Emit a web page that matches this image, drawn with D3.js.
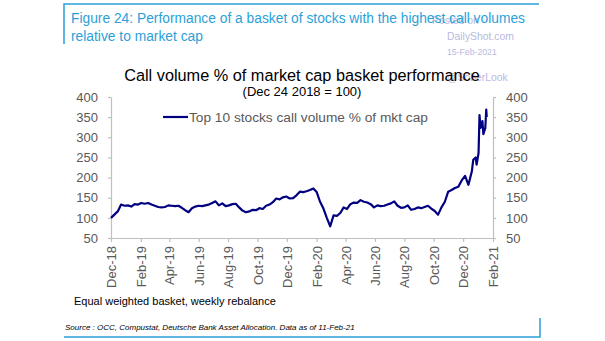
<!DOCTYPE html>
<html>
<head>
<meta charset="utf-8">
<script src="https://cdn.jsdelivr.net/npm/d3@7"></script>
<style>
  body { margin: 0; background: #fff; }
  svg { display: block; font-family: "Liberation Sans", Arial, sans-serif; }
</style>
</head>
<body>
<div id="chart"></div>
<script>
  // weekly basket level, Dec 24 2018 = 100
  var startDate = "2018-12-24";
  var weeklyValues = [100, 108, 116, 133, 130, 131, 128, 134, 133, 137,
    135, 137, 133, 130, 127, 126, 127, 131, 130, 129,
    130, 125, 119, 114, 124, 128, 130, 129, 131, 133,
    137, 141, 131, 136, 129, 131, 134, 135, 126, 118,
    114, 116, 120, 119, 124, 122, 130, 133, 139, 148,
    146, 151, 153, 148, 149, 156, 165, 164, 166, 169,
    173, 164, 140, 123, 100, 79, 106, 105, 112, 126,
    122, 134, 138, 137, 144, 140, 138, 134, 126, 131,
    129, 130, 133, 136, 141, 130, 125, 126, 131, 120,
    122, 126, 124, 127, 130, 123, 117, 108, 126, 140,
    165, 169, 174, 177, 193, 204, 182, 215];
  // last weeks (Jan/Feb 2021) at daily detail
  var tailDates = ["2021-01-14", "2021-01-19", "2021-01-21", "2021-01-25", "2021-01-27",
    "2021-01-29", "2021-02-02", "2021-02-04", "2021-02-08", "2021-02-10", "2021-02-11"];
  var tailValues = [244, 250, 232, 261, 355, 323, 340, 308, 323, 369, 350];

  var yTicks = [50, 100, 150, 200, 250, 300, 350, 400];
  var xTickDates = ["2018-12-24", "2019-02-24", "2019-04-24", "2019-06-24", "2019-08-24",
    "2019-10-24", "2019-12-24", "2020-02-24", "2020-04-24", "2020-06-24", "2020-08-24",
    "2020-10-24", "2020-12-24", "2021-02-24"];
  var xTickLabels = ["Dec-18", "Feb-19", "Apr-19", "Jun-19", "Aug-19", "Oct-19", "Dec-19",
    "Feb-20", "Apr-20", "Jun-20", "Aug-20", "Oct-20", "Dec-20", "Feb-21"];
  var seriesName = "Top 10 stocks call volume % of mkt cap";

  var parse = d3.timeParse("%Y-%m-%d");
  var start = parse(startDate);

  var data = weeklyValues.map(function(v, i) {
    return { date: d3.timeDay.offset(start, 7 * i), value: v };
  }).concat(tailDates.map(function(d, i) {
    return { date: parse(d), value: tailValues[i] };
  }));

  var width = 605, height = 341;
  var blue = "#2c9fd9", mark = "#b9b9de", axisGrey = "#bfbfbf", labelGrey = "#595959";

  var svg = d3.select("#chart").append("svg")
    .attr("width", width)
    .attr("height", height);

  svg.append("rect").attr("width", width).attr("height", height).attr("fill", "#fff");

  // frame lines
  svg.append("path")
    .attr("d", "M64,44V4H539")
    .attr("fill", "none").attr("stroke", blue).attr("stroke-width", 1.5);
  svg.append("path")
    .attr("d", "M64,337H540V318")
    .attr("fill", "none").attr("stroke", blue).attr("stroke-width", 1.5);

  // watermark (under the titles)
  var wm = svg.append("g").attr("fill", mark);
  wm.append("text").attr("x", 432).attr("y", 24).style("font-size", "10.4px").text("Posted on");
  wm.append("text").attr("x", 447).attr("y", 40).style("font-size", "10.4px").text("DailyShot.com");
  wm.append("text").attr("x", 447).attr("y", 55).style("font-size", "8.7px").text("15-Feb-2021");
  wm.append("text").attr("x", 447).attr("y", 81).style("font-size", "10.4px").text("@SoberLook");

  svg.append("text")
    .attr("x", 71).attr("y", 23)
    .attr("fill", blue).style("font-size", "13.8px")
    .text("Figure 24: Performance of a basket of stocks with the highest call volumes");
  svg.append("text")
    .attr("x", 71).attr("y", 41)
    .attr("fill", blue).style("font-size", "13.8px")
    .text("relative to market cap");

  svg.append("text")
    .attr("x", 302).attr("y", 81)
    .attr("text-anchor", "middle")
    .attr("fill", "#000").style("font-size", "16.3px")
    .text("Call volume % of market cap basket performance");
  svg.append("text")
    .attr("x", 302).attr("y", 96)
    .attr("text-anchor", "middle")
    .attr("fill", "#000").style("font-size", "13px")
    .text("(Dec 24 2018 = 100)");

  var x = d3.scaleTime()
    .domain([parse(xTickDates[0]), parse(xTickDates[xTickDates.length - 1])])
    .range([111, 493]);

  var y = d3.scaleLinear()
    .domain([50, 400])
    .range([238, 97]);

  function styleAxis(g) {
    g.selectAll("path, line").attr("stroke", axisGrey).attr("stroke-width", 1.2);
    g.selectAll("text").attr("fill", labelGrey).style("font-size", "13px")
      .style("font-family", "'Liberation Sans', Arial, sans-serif");
  }

  svg.append("g")
    .attr("transform", "translate(111,0)")
    .call(d3.axisLeft(y).tickValues(yTicks).tickSize(3).tickPadding(10).tickSizeOuter(0))
    .call(styleAxis);

  svg.append("g")
    .attr("transform", "translate(493,0)")
    .call(d3.axisRight(y).tickValues(yTicks).tickSize(3).tickPadding(10).tickSizeOuter(0))
    .call(styleAxis);

  var xAxis = svg.append("g")
    .attr("transform", "translate(0,238)")
    .call(d3.axisBottom(x)
      .tickValues(xTickDates.map(parse))
      .tickFormat(function(d, i) { return xTickLabels[i]; })
      .tickSize(4).tickSizeOuter(0))
    .call(styleAxis);

  xAxis.selectAll("text")
    .attr("transform", "rotate(-90)")
    .attr("text-anchor", "end")
    .attr("x", -8)
    .attr("y", 0)
    .attr("dy", "0.35em")
    .style("font-size", "13px");

  var line = d3.line()
    .x(function(d) { return x(d.date); })
    .y(function(d) { return y(d.value); });

  svg.append("path")
    .datum(data)
    .attr("d", line)
    .attr("fill", "none")
    .attr("stroke", "#000080")
    .attr("stroke-width", 2.2)
    .attr("stroke-linejoin", "round");

  // legend
  svg.append("line")
    .attr("x1", 163).attr("x2", 188)
    .attr("y1", 117).attr("y2", 117)
    .attr("stroke", "#000080").attr("stroke-width", 2.2);
  svg.append("text")
    .attr("x", 189).attr("y", 122)
    .attr("fill", labelGrey).style("font-size", "13.7px")
    .text(seriesName);

  svg.append("text")
    .attr("x", 74).attr("y", 305)
    .attr("fill", "#000").style("font-size", "11px")
    .text("Equal weighted basket, weekly rebalance");

  svg.append("text")
    .attr("x", 65).attr("y", 330)
    .attr("fill", "#000").style("font-size", "8px").style("font-style", "italic")
    .text("Source : OCC, Compustat, Deutsche Bank Asset Allocation. Data as of 11-Feb-21");
</script>
</body>
</html>
